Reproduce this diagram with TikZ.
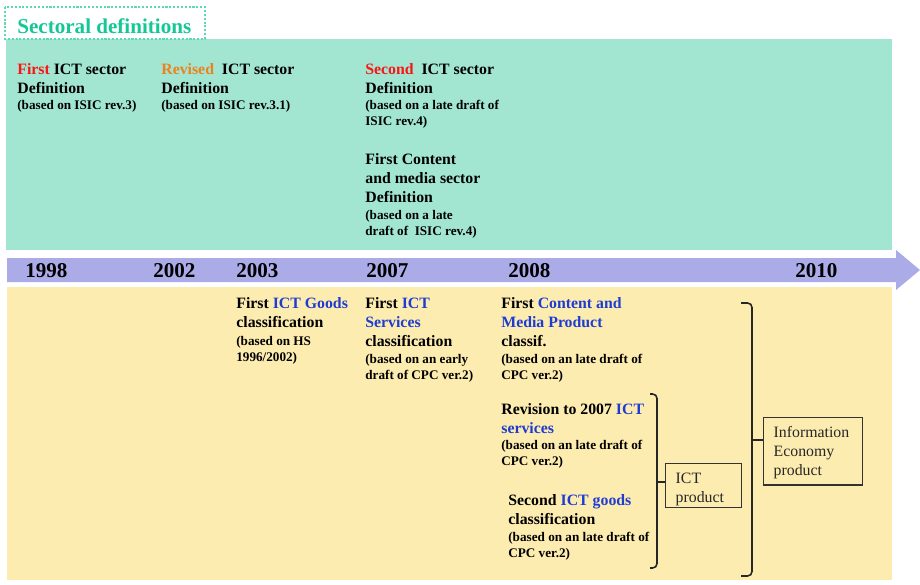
\documentclass[tikz,border=0pt]{standalone}
\usepackage{fontspec}
\setmainfont{Liberation Serif}
\definecolor{tealtext}{RGB}{20,200,150}
\definecolor{tealbg}{RGB}{162,230,210}
\definecolor{yellowbg}{RGB}{253,236,176}
\definecolor{arrowfill}{RGB}{171,171,232}
\definecolor{wordred}{RGB}{250,20,20}
\definecolor{wordorange}{RGB}{235,130,30}
\definecolor{wordblue}{RGB}{30,60,210}
\tikzset{
  head/.style={font=\fontsize{9}{11}\selectfont\bfseries, align=left, inner sep=0pt, anchor=north west},
  note/.style={font=\fontsize{7.5}{9}\selectfont\bfseries, align=left, inner sep=0pt, anchor=north west},
  year/.style={font=\fontsize{12}{14}\selectfont\bfseries, inner sep=0pt, anchor=base west},
  prodbox/.style={draw=black!80, line width=0.8pt, font=\fontsize{9}{10.8}\selectfont, text=black!85,
    align=left, inner xsep=0.2cm, inner ysep=0pt, anchor=north west},
  bracket/.style={draw=black!85, line width=0.9pt, rounded corners=2.5pt}
}
\begin{document}
\begin{tikzpicture}[x=0.02cm, y=-0.02cm]
        \useasboundingbox (0,0) rectangle (920,585);
        % background bands
        \fill[tealbg]   (6,39)  rectangle (892,250);
        \fill[yellowbg] (7,287) rectangle (892,580);
        \draw[tealtext!70, densely dotted, line width=1.2pt, fill=white] (5,7) rectangle (205,39);
        \node[font=\fontsize{12}{14}\selectfont\bfseries, text=tealtext, inner sep=0pt, anchor=base west]
          (sectoral) at (17,33) {Sectoral definitions};
        % time arrow
        \fill[arrowfill] (7,258) -- (896,258) -- (896,250) -- (920,270) -- (896,290) -- (896,282) -- (7,282) -- cycle;
        \node[year] (y1998) at (25,277)  {1998};
        \node[year] (y2002) at (153,277) {2002};
        \node[year] (y2003) at (236,277) {2003};
        \node[year] (y2007) at (366,277) {2007};
        \node[year] (y2008) at (508,277) {2008};
        \node[year] (y2010) at (795,277) {2010};
        % sector definitions
        \node[head] (isic3)  at (17,63)  {\textcolor{wordred}{First} ICT sector\\Definition};
        \node[note] (isic3n) at (17,100) {(based on ISIC rev.3)};
        \node[head] (isic31)  at (161,63)  {\textcolor{wordorange}{Revised}\ \ ICT sector\\Definition};
        \node[note] (isic31n) at (161,100) {(based on ISIC rev.3.1)};
        \node[head] (isic4)  at (365,63)  {\textcolor{wordred}{Second}\ \ ICT sector\\Definition};
        \node[note] (isic4n) at (365,100) {(based on a late draft of\\ISIC rev.4)};
        \node[head] (media4)  at (365,153) {First Content\\and media sector\\Definition};
        \node[note] (media4n) at (365,210) {(based on a late\\draft of\ \ ISIC rev.4)};
        % product classifications
        \node[head] (hsgoods)  at (236,297) {First \textcolor{wordblue}{ICT Goods}\\classification};
        \node[note] (hsgoodsn) at (236,336) {(based on HS\\1996/2002)};
        \node[head] (cpcserv)  at (365,297) {First \textcolor{wordblue}{ICT}\\\textcolor{wordblue}{Services}\\classification};
        \node[note] (cpcservn) at (365,354) {(based on an early\\draft of CPC ver.2)};
        \node[head] (cpcmedia)  at (501,297) {First \textcolor{wordblue}{Content and}\\\textcolor{wordblue}{Media Product}\\classif.};
        \node[note] (cpcmedian) at (501,354) {(based on an late draft of\\CPC ver.2)};
        \node[head] (revserv)  at (501,403) {Revision to 2007 \textcolor{wordblue}{ICT}\\\textcolor{wordblue}{services}};
        \node[note] (revservn) at (501,440) {(based on an late draft of\\CPC ver.2)};
        \node[head] (goods2)  at (508,494) {Second \textcolor{wordblue}{ICT goods}\\classification};
        \node[note] (goods2n) at (508,532) {(based on an late draft of\\CPC ver.2)};
        % product boxes
        \node[prodbox, text width=1.12cm] (ictbox) at (665,463)
          {\rule{0pt}{11.3pt}ICT\\product\rule[-2.8pt]{0pt}{2.8pt}};
        \node[prodbox, text width=1.58cm] (infobox) at (763,417)
          {\rule{0pt}{11.3pt}Information\\Economy\\product\rule[-5.5pt]{0pt}{5.5pt}};
        % brackets
        \coordinate (ictTop) at (650,394);
        \coordinate (ictMid) at (657,482);
        \coordinate (ictBot) at (650,568);
        \draw[bracket] (ictTop) -| (ictMid) |- (ictBot);
        \draw[bracket, line width=1.4pt, rounded corners=0pt] (ictMid) -- (ictMid -| ictbox.west);
        \coordinate (ieTop) at (741,303);
        \coordinate (ieMid) at (752,440);
        \coordinate (ieBot) at (741,576);
        \draw[bracket] (ieTop) -| (ieMid) |- (ieBot);
        \draw[bracket, line width=1.4pt, rounded corners=0pt] (ieMid) -- (ieMid -| infobox.west);
\end{tikzpicture}
\end{document}
